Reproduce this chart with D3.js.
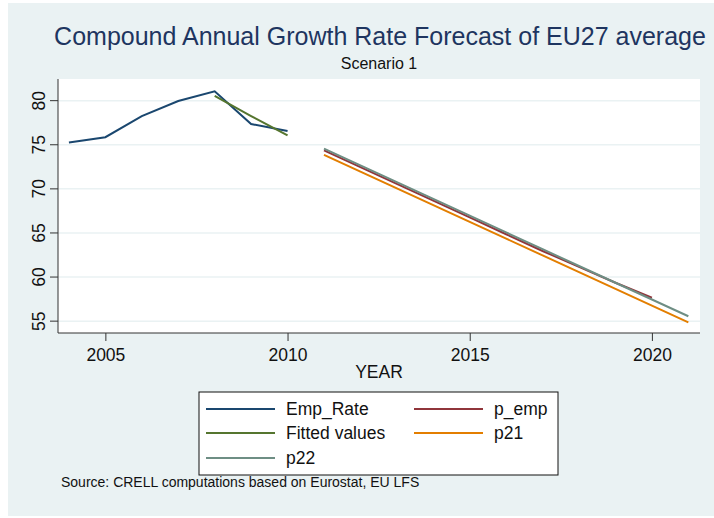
<!DOCTYPE html>
<html lang="en">
<head>
<meta charset="utf-8">
<title>Compound Annual Growth Rate Forecast</title>
<style>
  body { margin: 0; background: #fff; }
  svg { display: block; font-family: 'Liberation Sans', Arial, sans-serif; }
  .axis path, .axis line { stroke: #333; }
  .axis text { font-size: 17.5px; fill: #111; }
  .grid line { stroke: #eaf2f3; stroke-width: 1.5; }
  .grid path { display: none; }
</style>
</head>
<body>
<svg width="714" height="518"></svg>
<script src="https://cdn.jsdelivr.net/npm/d3@7"></script>
<script>
// data
var years = [2004, 2005, 2006, 2007, 2008, 2009, 2010];
var empRate = [75.2, 75.8, 78.2, 79.9, 81.0, 77.3, 76.5];
var fitYears = [2008, 2009, 2010];
var fitted = [80.5, 78.2, 76.0];
var fcYears = [2011, 2012, 2013, 2014, 2015, 2016, 2017, 2018, 2019, 2020, 2021];
var pEmp = [74.3, 72.4, 70.5, 68.6, 66.7, 64.8, 62.9, 61.1, 59.3, 57.6];
var p21 = [73.8, 71.9, 70.0, 68.1, 66.2, 64.3, 62.4, 60.5, 58.6, 56.7, 54.8];
var p22 = [74.5, 72.6, 70.7, 68.8, 66.9, 65.0, 63.1, 61.2, 59.3, 57.4, 55.5];
var xTicks = [2005, 2010, 2015, 2020];
var yTicks = [55, 60, 65, 70, 75, 80];

var series = [
  { name: 'Emp_Rate', x: years, y: empRate, color: '#1a476f' },
  { name: 'Fitted values', x: fitYears, y: fitted, color: '#55752f' },
  { name: 'p_emp', x: fcYears, y: pEmp, color: '#90353b' },
  { name: 'p21', x: fcYears, y: p21, color: '#e37e00' },
  { name: 'p22', x: fcYears, y: p22, color: '#6e8e84' }
];

var svg = d3.select('svg');

svg.append('rect')
  .attr('x', 8).attr('y', 3).attr('width', 706).attr('height', 513)
  .attr('fill', '#eaf2f3');

var plotL = 58, plotR = 700, plotT = 79, plotB = 333;

svg.append('rect')
  .attr('x', plotL).attr('y', plotT).attr('width', plotR - plotL).attr('height', plotB - plotT)
  .attr('fill', '#fff');

var x = d3.scaleLinear().domain([2003.7, 2021.32]).range([plotL, plotR]);
var y = d3.scaleLinear().domain([53.6, 82.4]).range([plotB, plotT]);

svg.append('g')
  .attr('class', 'grid')
  .attr('transform', `translate(${plotL},0)`)
  .call(d3.axisLeft(y).tickValues(yTicks).tickSize(-(plotR - plotL)).tickFormat(''));

var line = d3.line().x(d => x(d[0])).y(d => y(d[1]));

series.forEach(function (s) {
  var pts = s.y.map((v, i) => [s.x[i], v]);
  svg.append('path')
    .datum(pts)
    .attr('d', line)
    .attr('fill', 'none')
    .attr('stroke', s.color)
    .attr('stroke-width', 2);
});

var yAxis = svg.append('g')
  .attr('class', 'axis')
  .attr('transform', `translate(${plotL},0)`)
  .call(d3.axisLeft(y).tickValues(yTicks).tickSize(8).tickSizeOuter(0));
yAxis.select('.domain').attr('d', `M0,${plotT}V${plotB}`);
yAxis.selectAll('text')
  .attr('transform', 'rotate(-90)')
  .attr('x', 0).attr('y', -13)
  .attr('dy', 0)
  .attr('text-anchor', 'middle');

var xAxis = svg.append('g')
  .attr('class', 'axis')
  .attr('transform', `translate(0,${plotB})`)
  .call(d3.axisBottom(x).tickValues(xTicks).tickFormat(d3.format('d')).tickSize(8).tickSizeOuter(0).tickPadding(8));
xAxis.select('.domain').attr('d', `M${plotL},0H${plotR}`);

svg.append('text')
  .attr('x', 379).attr('y', 378)
  .attr('text-anchor', 'middle')
  .style('font-size', '17.5px').attr('fill', '#111')
  .text('YEAR');

svg.append('text')
  .attr('x', 380).attr('y', 45)
  .attr('text-anchor', 'middle')
  .style('font-size', '25px').attr('fill', '#1e3560')
  .text('Compound Annual Growth Rate Forecast of EU27 average');

svg.append('text')
  .attr('x', 379).attr('y', 69)
  .attr('text-anchor', 'middle')
  .style('font-size', '16px').attr('fill', '#111')
  .text('Scenario 1');

// legend
var lg = svg.append('g');
lg.append('rect')
  .attr('x', 199).attr('y', 392).attr('width', 359).attr('height', 83)
  .attr('fill', '#fff').attr('stroke', '#111').attr('stroke-width', 1);

var legendPos = [[206, 409], [206, 433], [206, 458], [414, 409], [414, 433]];
var legendOrder = [0, 1, 4, 2, 3];
legendOrder.forEach(function (si, k) {
  var s = series[si], p = legendPos[k];
  lg.append('line')
    .attr('x1', p[0]).attr('x2', p[0] + 69)
    .attr('y1', p[1]).attr('y2', p[1])
    .attr('stroke', s.color).attr('stroke-width', 2);
  lg.append('text')
    .attr('x', p[0] + 80).attr('y', p[1] + 6)
    .style('font-size', '17.5px').attr('fill', '#111')
    .text(s.name);
});

svg.append('text')
  .attr('x', 61).attr('y', 487)
  .style('font-size', '14px').attr('fill', '#111')
  .text('Source: CRELL computations based on Eurostat, EU LFS');
</script>
</body>
</html>
